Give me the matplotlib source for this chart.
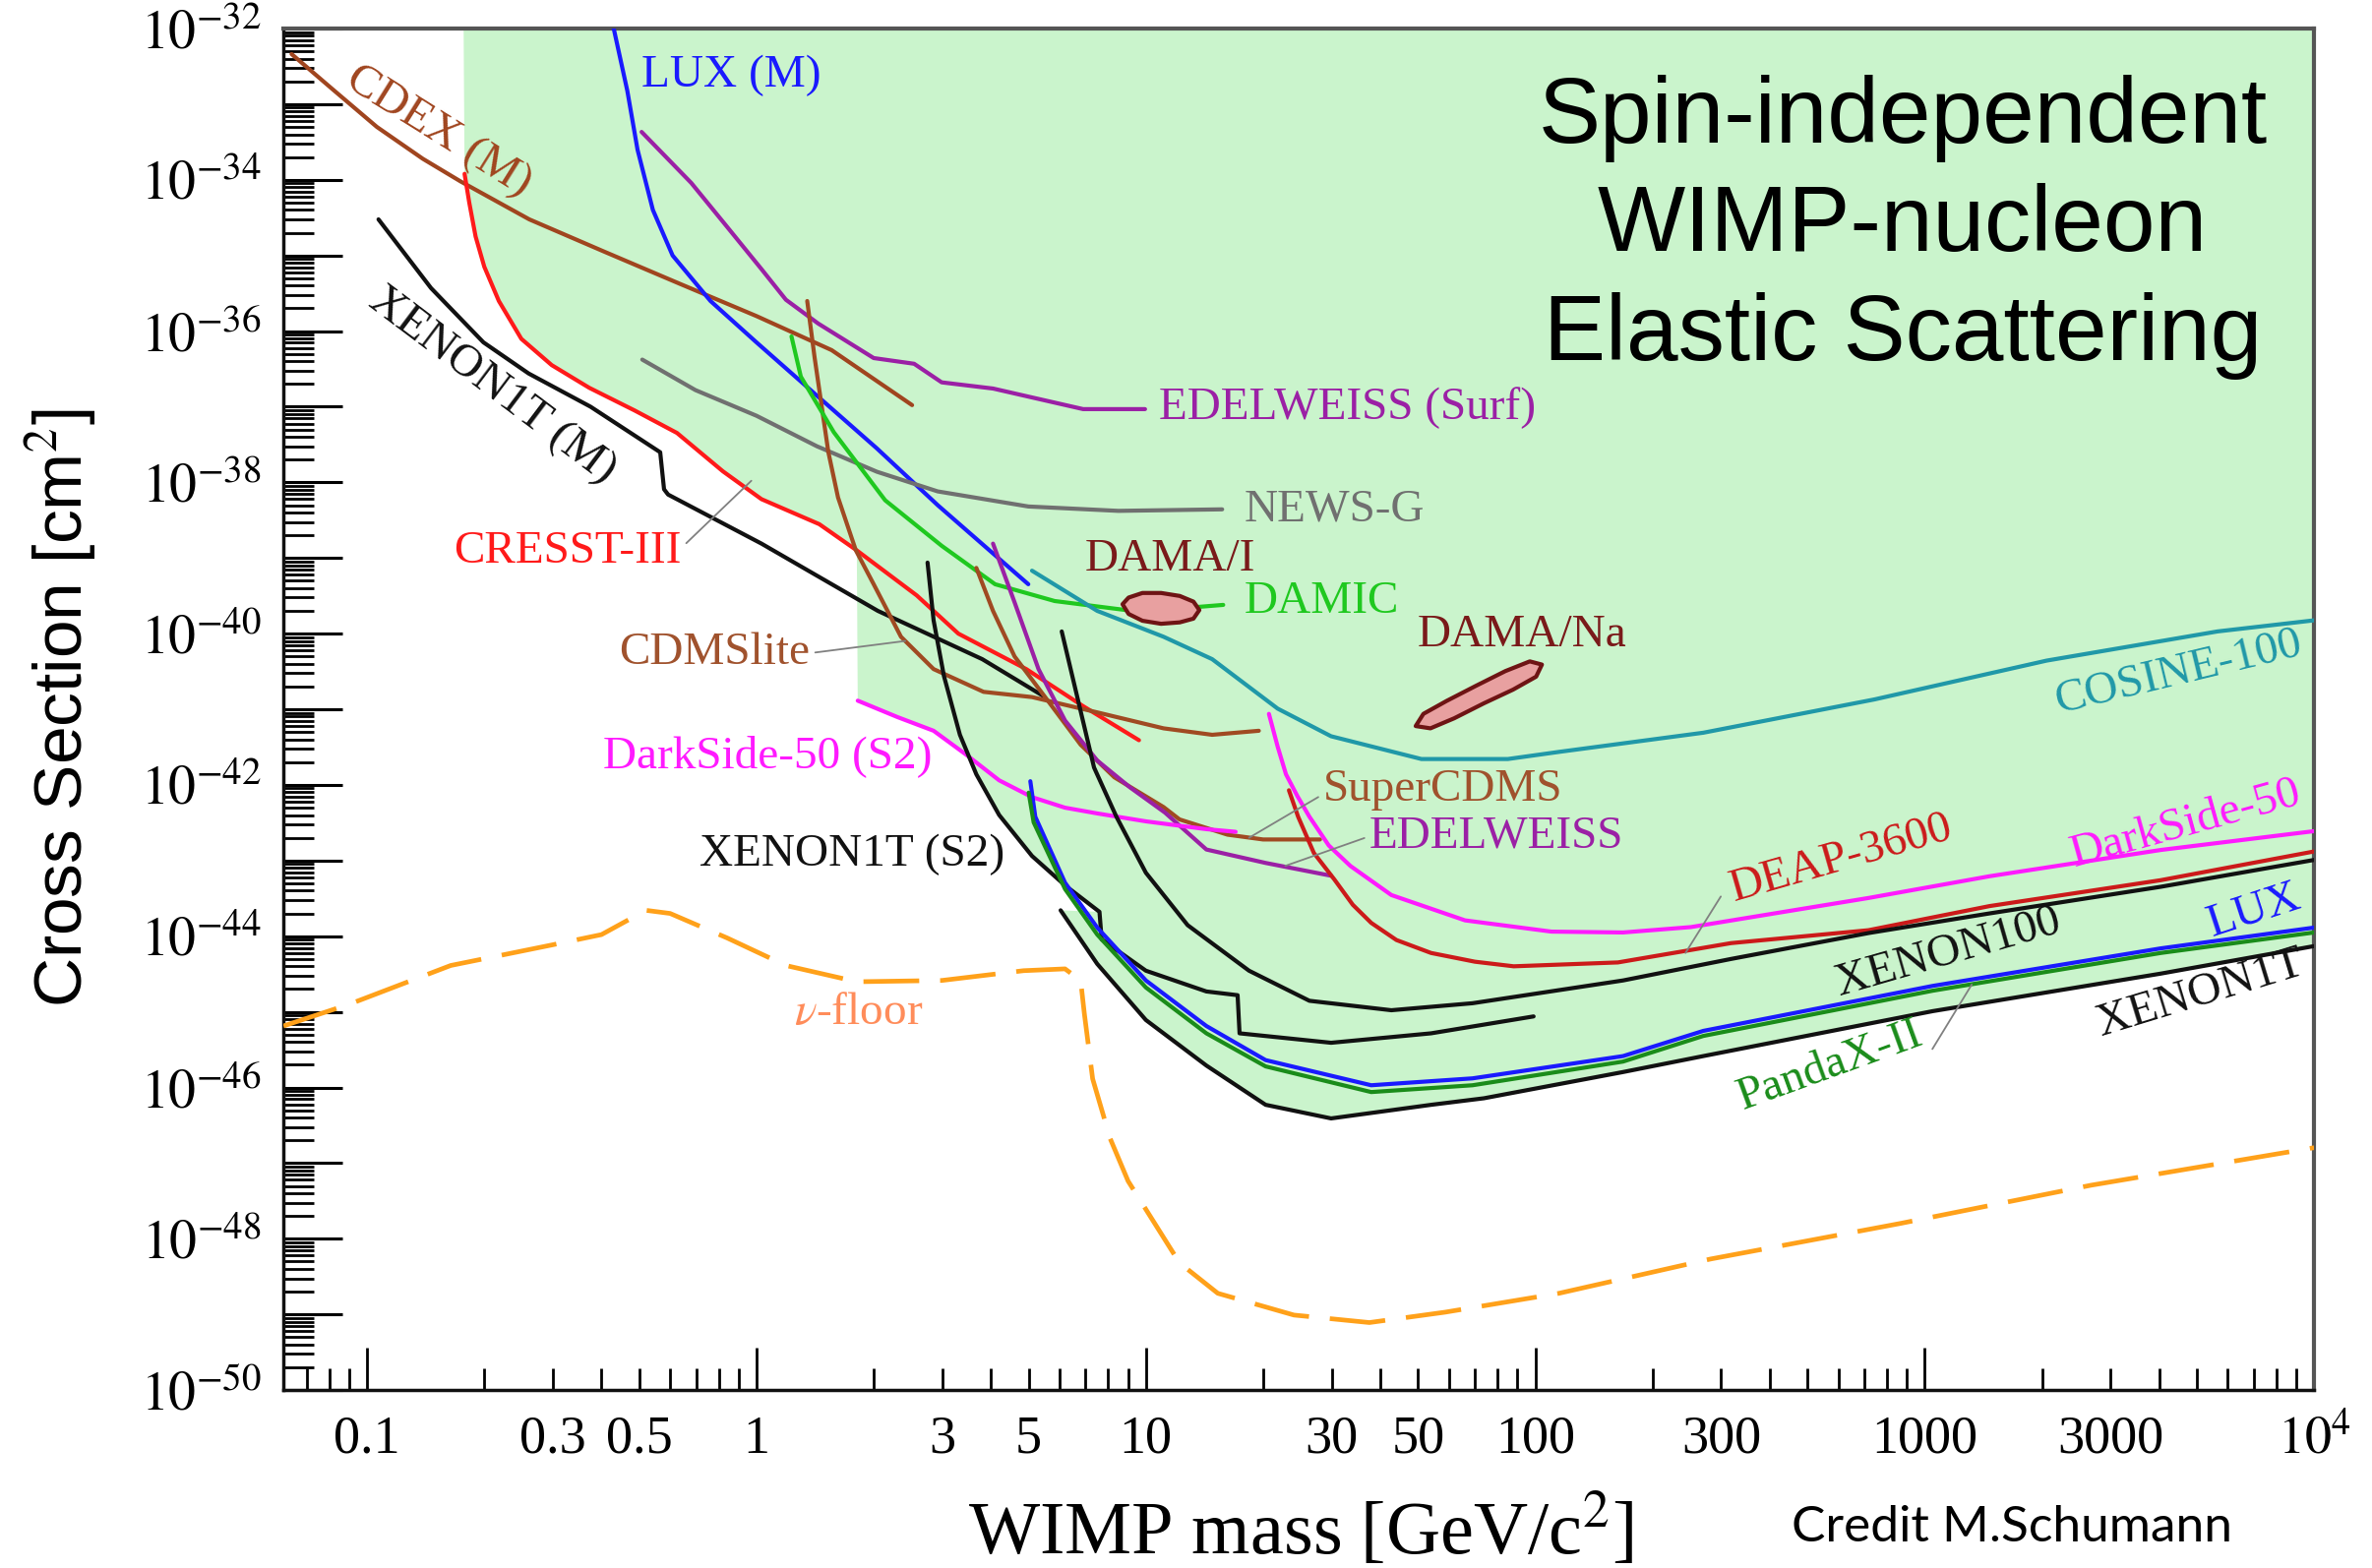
import numpy as np
import matplotlib.pyplot as plt
from matplotlib.ticker import LogLocator, FuncFormatter, NullFormatter

plt.rcParams['font.family'] = ['Liberation Serif', 'DejaVu Serif']
plt.rcParams['mathtext.fontset'] = 'stix'

# ---- curves (mass in GeV/c^2, cross section in cm^2) ----
cdex_m = [0.064, 0.0815, 0.106, 0.139, 0.174, 0.261, 0.407, 0.637, 1.0, 1.56, 2.51]
cdex_s = [4.6e-33, 1.58e-33, 5.0e-34, 1.9e-34, 9.5e-35, 3.0e-35, 1.12e-35, 4.2e-36, 1.58e-36, 5.6e-37, 1.05e-37]

cresst_m = [0.178, 0.183, 0.19, 0.2, 0.218, 0.249, 0.298, 0.372, 0.487, 0.625, 0.82, 1.03, 1.45, 1.81,
            2.58, 3.3, 4.93, 6.9, 9.6]
cresst_s = [1.2e-34, 5.0e-35, 1.78e-35, 7.1e-36, 2.5e-36, 7.9e-37, 3.55e-37, 1.78e-37, 8.9e-38, 4.5e-38,
            1.4e-38, 6.0e-39, 2.8e-39, 1.26e-39, 3.2e-40, 1.0e-40, 3.4e-41, 1.1e-41, 3.9e-42]

x1t_migdal_m = [0.107, 0.146, 0.199, 0.26, 0.375, 0.566, 0.579, 0.593, 1.03, 2.05, 3.8, 5.45]
x1t_migdal_s = [3.0e-35, 3.7e-36, 7.1e-37, 2.75e-37, 1.0e-37, 2.5e-38, 8.1e-39, 6.9e-39, 1.55e-39, 2.0e-40, 4.6e-41, 1.5e-41]

lux_migdal_m = [0.43, 0.466, 0.495, 0.542, 0.609, 0.762, 1.0, 1.43, 2.04, 2.92, 4.99]
lux_migdal_s = [1.0e-32, 1.5e-33, 2.5e-34, 4.0e-35, 1.0e-35, 2.5e-36, 7.1e-37, 1.4e-37, 2.8e-38, 5.0e-39, 4.5e-40]

edw_surf_m = [0.507, 0.68, 0.84, 1.03, 1.19, 1.44, 2.0, 2.54, 2.99, 4.05, 6.9, 9.95]
edw_surf_s = [4.3e-34, 9.1e-35, 2.4e-35, 6.6e-36, 2.6e-36, 1.26e-36, 4.4e-37, 3.7e-37, 2.1e-37, 1.74e-37, 9.3e-38, 9.3e-38]

newsg_m = [0.509, 0.697, 1.0, 1.43, 2.04, 2.92, 4.99, 8.5, 15.7]
newsg_s = [4.2e-37, 1.66e-37, 7.6e-38, 3.0e-38, 1.38e-38, 7.6e-39, 4.8e-39, 4.2e-39, 4.4e-39]

damic_m = [1.23, 1.30, 1.58, 2.14, 2.99, 4.1, 5.83, 9.6, 15.8]
damic_s = [8.5e-37, 2.5e-37, 4.6e-38, 5.8e-39, 1.45e-39, 4.5e-40, 2.7e-40, 1.95e-40, 2.4e-40]

cdmslite_m = [1.35, 1.41, 1.53, 1.62, 1.8, 2.0, 2.35, 2.85, 3.83, 5.1, 7.5, 11.1, 14.8, 19.5]
cdmslite_s = [2.5e-36, 4.5e-37, 2.5e-38, 6.3e-39, 1.26e-39, 4.5e-40, 9.1e-41, 3.4e-41, 1.7e-41, 1.45e-41,
              9.1e-42, 5.6e-42, 4.6e-42, 5.2e-42]

supercdms_m = [3.67, 4.05, 4.6, 5.6, 6.8, 8.3, 11.1, 12.2, 16.2, 20.0, 28.0]
supercdms_s = [7.4e-40, 2.0e-40, 5.0e-41, 1.3e-41, 3.4e-42, 1.26e-42, 5.1e-43, 3.5e-43, 2.2e-43, 1.9e-43, 1.9e-43]

edw_m = [4.05, 4.6, 5.3, 6.2, 7.5, 9.1, 11.2, 14.3, 20.3, 29.9]
edw_s = [1.55e-39, 2.6e-40, 3.4e-41, 7.1e-42, 2.1e-42, 9.3e-43, 4.3e-43, 1.4e-43, 9.3e-44, 6.3e-44]

cosine_m = [5.1, 7.5, 11.1, 14.8, 21.8, 29.9, 51, 85, 116, 270, 743, 2056, 5650, 1e4]
cosine_s = [6.8e-40, 2.0e-40, 9.1e-41, 4.6e-41, 1.02e-41, 4.4e-42, 2.2e-42, 2.2e-42, 2.75e-42, 4.9e-42,
            1.35e-41, 4.4e-41, 1.07e-40, 1.5e-40]

ds_s2_m = [1.82, 2.3, 2.85, 3.46, 4.2, 5.1, 6.2, 7.5, 10, 14.3, 17]
ds_s2_s = [1.3e-41, 7.9e-42, 5.2e-42, 2.5e-42, 1.15e-42, 6.9e-43, 5.0e-43, 4.2e-43, 3.3e-43, 2.6e-43, 2.4e-43]

ds50_m = [20.7, 21.8, 22.9, 24.5, 26.3, 29.5, 33.5, 42.7, 66, 110, 168, 251, 717, 1466, 4036, 1e4]
ds50_s = [8.7e-42, 3.2e-42, 1.38e-42, 7.1e-43, 3.8e-43, 1.58e-43, 8.5e-44, 3.5e-44, 1.62e-44, 1.15e-44,
          1.12e-44, 1.32e-44, 3.2e-44, 6.2e-44, 1.38e-43, 2.45e-43]

deap_m = [23.3, 24.6, 27, 30.5, 34, 37.9, 44, 54, 70, 88, 163, 318, 717, 1466, 4036, 1e4]
deap_s = [8.5e-43, 3.8e-43, 1.26e-43, 5.6e-44, 2.6e-44, 1.5e-44, 8.9e-45, 6.0e-45, 4.6e-45, 4.0e-45,
          4.5e-45, 8.1e-45, 1.2e-44, 2.5e-44, 5.5e-44, 1.32e-43]

x100_m = [6.08, 6.7, 7.36, 8.4, 10, 12.8, 18.4, 26.3, 42.7, 69, 168, 318, 717, 1466, 4036, 1e4]
x100_s = [1.07e-40, 1.3e-41, 1.7e-42, 3.8e-43, 6.9e-44, 1.4e-44, 3.5e-45, 1.4e-45, 1.05e-45, 1.3e-45,
          2.6e-45, 5.0e-45, 1.1e-44, 2.0e-44, 4.5e-44, 1.02e-43]

x1t_s2_m = [2.75, 2.85, 3.03, 3.33, 3.67, 4.2, 5.1, 6.2, 7.6, 7.7, 10, 14.3, 17.2, 17.4, 29.9, 54, 99]
x1t_s2_s = [8.7e-40, 1.5e-40, 2.75e-41, 4.6e-42, 1.38e-42, 4.0e-43, 1.15e-43, 4.7e-44, 2.1e-44, 9.1e-45,
            3.5e-45, 1.86e-45, 1.66e-45, 5.2e-46, 3.9e-46, 5.2e-46, 8.7e-46]

lux_m = [5.05, 5.2, 6.2, 7.5, 10, 14.3, 20.3, 37.9, 69, 168, 270, 1047, 4036, 1e4]
lux_s = [1.12e-42, 3.8e-43, 5.1e-44, 1.3e-44, 2.6e-45, 6.5e-46, 2.3e-46, 1.07e-46, 1.32e-46, 2.6e-46,
         5.6e-46, 2.2e-45, 6.9e-45, 1.3e-44]

pandax_m = [5.0, 5.15, 6.2, 7.5, 10, 14.3, 20.3, 37.9, 69, 168, 270, 1047, 4036, 1e4]
pandax_s = [7.9e-43, 3.2e-43, 4.2e-44, 1.05e-44, 2.1e-45, 5.2e-46, 1.9e-46, 8.7e-47, 1.07e-46, 2.2e-46,
            4.8e-46, 1.9e-45, 6.0e-45, 1.12e-44]

x1t_m = [6.04, 7.5, 10, 14.3, 20.3, 29.9, 54, 73.8, 168, 270, 1047, 4036, 1e4]
x1t_s = [2.2e-44, 4.3e-45, 7.8e-46, 1.95e-46, 5.9e-47, 3.9e-47, 5.9e-47, 7.2e-47, 1.6e-46, 2.6e-46,
         1.02e-45, 3.2e-45, 7.4e-45]

nufloor_m = [0.061, 0.09, 0.164, 0.296, 0.40, 0.52, 0.60, 0.84, 1.19, 1.81, 2.99, 4.85, 6.2, 6.8, 6.95, 7.3,
             8.1, 9.0, 12.2, 15.3, 24, 37.5, 58.7, 115, 282, 869, 2673, 1e4]
nufloor_s = [6.5e-46, 1.26e-45, 4.1e-45, 7.6e-45, 1.05e-44, 2.2e-44, 2.0e-44, 9.5e-45, 4.1e-45, 2.5e-45,
             2.6e-45, 3.5e-45, 3.7e-45, 2.6e-45, 9.5e-46, 1.3e-46, 2.1e-47, 5.8e-48, 4.8e-49, 1.9e-49,
             9.8e-50, 7.8e-50, 1.07e-49, 1.9e-49, 5.4e-49, 1.6e-48, 5.1e-48, 1.6e-47]

# DAMA contours
dama_i_m = [8.71, 9.03, 9.80, 10.94, 12.22, 13.25, 13.72, 13.25, 12.22, 10.94, 9.80, 9.03, 8.71]
dama_i_s = [2.45e-40, 3.0e-40, 3.45e-40, 3.45e-40, 3.15e-40, 2.65e-40, 2.05e-40, 1.58e-40, 1.41e-40,
            1.35e-40, 1.48e-40, 1.82e-40, 2.45e-40]
dama_na_m = [49.3, 51.6, 59.2, 70.5, 83.8, 96.8, 104, 100.5, 87.7, 73.8, 61.9, 53.8, 49.3]
dama_na_s = [6.0e-42, 8.7e-42, 1.29e-41, 2.05e-41, 3.2e-41, 4.3e-41, 3.9e-41, 2.7e-41, 1.82e-41, 1.2e-41,
             7.6e-42, 5.6e-42, 6.0e-42]

# tick labels on the mass axis
xtick_vals = [0.1, 0.3, 0.5, 1, 3, 5, 10, 30, 50, 100, 300, 1000, 3000, 1e4]
xtick_text = ['0.1', '0.3', '0.5', '1', '3', '5', '10', '30', '50', '100', '300', '1000', '3000', r'$10^4$']

# ---- colours ----
BLUE = '#1a1aff'
CDEX_C = '#a0451f'
BROWN = '#a04a22'
RED = '#ff1a1a'
BLACK = '#111111'
PURPLE = '#9b20a5'
GRAY = '#707070'
GREEN = '#1fc81f'
TEAL = '#2098a8'
MAGENTA = '#ff1aff'
DEAP_C = '#cc1a1a'
PANDA_C = '#1a8c1a'
ORANGE = '#ffa11a'
FILL = '#caf4cc'

fig = plt.figure(figsize=(24.11, 15.94), dpi=100)
ax = fig.add_axes([0.1195, 0.1135, 0.8561, 0.8683])
ax.set_xscale('log')
ax.set_yscale('log')
ax.set_xlim(0.061, 1e4)
ax.set_ylim(1e-50, 1e-32)

# excluded region (built from the limit curves)
top = 1e-32
poly_m = np.concatenate([[0.177, 1e4], x1t_m[::-1], x1t_s2_m[8:3:-1], ds_s2_m[3::-1], cresst_m[13::-1]])
poly_s = np.concatenate([[top, top], x1t_s[::-1], x1t_s2_s[8:3:-1], ds_s2_s[3::-1], cresst_s[13::-1]])
ax.fill(poly_m, poly_s, color=FILL, lw=0, zorder=0)

lw = 3.0
curves = [
    (cdex_m, cdex_s, CDEX_C), (cresst_m, cresst_s, RED), (x1t_migdal_m, x1t_migdal_s, BLACK),
    (lux_migdal_m, lux_migdal_s, BLUE), (edw_surf_m, edw_surf_s, PURPLE), (newsg_m, newsg_s, GRAY),
    (cdmslite_m, cdmslite_s, BROWN), (damic_m, damic_s, GREEN), (supercdms_m, supercdms_s, BROWN),
    (edw_m, edw_s, PURPLE), (cosine_m, cosine_s, TEAL), (ds_s2_m, ds_s2_s, MAGENTA),
    (ds50_m, ds50_s, MAGENTA), (deap_m, deap_s, DEAP_C), (x100_m, x100_s, BLACK),
    (x1t_s2_m, x1t_s2_s, BLACK), (lux_m, lux_s, BLUE), (pandax_m, pandax_s, PANDA_C), (x1t_m, x1t_s, BLACK),
]
for m, s, c in curves:
    ax.plot(m, s, color=c, lw=lw, zorder=3, solid_joinstyle='round', solid_capstyle='round')

ax.plot(nufloor_m, nufloor_s, color=ORANGE, lw=3.4, dashes=(12, 4.5), zorder=3)

for m, s in [(dama_i_m, dama_i_s), (dama_na_m, dama_na_s)]:
    ax.fill(m, s, facecolor='#e8a0a0', edgecolor='#6e1414', lw=3.0, joinstyle='round', zorder=4)

# ---- labels ----
fs = 34
def lab(txt, x, y, color, rot=0, ha='center'):
    ax.text(x, y, txt, transform=ax.transAxes, color=color, fontsize=fs, rotation=rot,
            ha=ha, va='center', zorder=6, rotation_mode='anchor')

lab('LUX (M)', 0.2204, 0.9653, BLUE)
lab('CDEX (M)', 0.0766, 0.9241, CDEX_C, rot=-32)
lab('XENON1T (M)', 0.1027, 0.7377, BLACK, rot=-37)
lab('EDELWEISS (Surf)', 0.4312, 0.7211, PURPLE, ha='left')
lab('NEWS-G', 0.4729, 0.6467, GRAY, ha='left')
lab('DAMA/I', 0.4365, 0.6098, '#7a1a1a')
lab('DAMIC', 0.4729, 0.5788, GREEN, ha='left')
lab('DAMA/Na', 0.5586, 0.5542, '#7a1a1a', ha='left')
lab('COSINE-100', 0.9331, 0.5267, TEAL, rot=13.5)
lab('DarkSide-50 (S2)', 0.2384, 0.4653, MAGENTA)
lab('XENON1T (S2)', 0.2800, 0.3931, BLACK)
lab('DarkSide-50', 0.9370, 0.4155, MAGENTA, rot=15.5)
lab('LUX', 0.9705, 0.3519, BLUE, rot=18)
lab('XENON100', 0.8198, 0.3208, BLACK, rot=16)
lab('XENON1T', 0.9443, 0.2912, BLACK, rot=17)
lab(r'$\nu$-floor', 0.2834, 0.2767, '#ff8c5a')

lead = dict(arrowstyle='-', color='#808080', lw=1.3, shrinkA=2, shrinkB=0)
ax.annotate('CRESST-III', xy=(0.97, 1.05e-38), xytext=(0.1400, 0.6156), textcoords='axes fraction',
            ha='center', va='center', color=RED, fontsize=fs, zorder=6,
            arrowprops=dict(lead, relpos=(1.0, 0.6)))
ax.annotate('CDMSlite', xy=(2.41, 8e-41), xytext=(0.2592, 0.5412), textcoords='axes fraction',
            ha='right', va='center', color='#a0522d', fontsize=fs, zorder=6,
            arrowprops=dict(lead, relpos=(1.0, 0.5)))
ax.annotate('SuperCDMS', xy=(18.4, 2.0e-43), xytext=(0.5121, 0.4408), textcoords='axes fraction',
            ha='left', va='center', color='#a0522d', fontsize=fs, zorder=6,
            arrowprops=dict(lead, relpos=(0.0, 0.4)))
ax.annotate('EDELWEISS', xy=(22.8, 8.5e-44), xytext=(0.5349, 0.4068), textcoords='axes fraction',
            ha='left', va='center', color=PURPLE, fontsize=fs, zorder=6,
            arrowprops=dict(lead, relpos=(0.0, 0.5)))
ax.annotate('DEAP-3600', xy=(243, 6e-45), xytext=(0.7670, 0.3902), textcoords='axes fraction',
            ha='center', va='center', color=DEAP_C, fontsize=fs, rotation=16, rotation_mode='anchor', zorder=6,
            arrowprops=dict(lead, relpos=(0.0, 0.2)))
ax.annotate('PandaX-II', xy=(1321, 2.3e-45), xytext=(0.7616, 0.2377), textcoords='axes fraction',
            ha='center', va='center', color=PANDA_C, fontsize=fs, rotation=20, rotation_mode='anchor', zorder=6,
            arrowprops=dict(lead, relpos=(1.0, 0.6)))

# ---- axes styling ----
def ylab(v, pos):
    e = int(round(np.log10(v)))
    return r'$10^{%d}$' % e if e % 2 == 0 else ''

def xlab(v, pos):
    for k, t in zip(xtick_vals, xtick_text):
        if abs(np.log10(v) - np.log10(k)) < 1e-6:
            return t
    return ''

ax.yaxis.set_major_locator(LogLocator(base=10, numticks=40))
ax.yaxis.set_minor_locator(LogLocator(base=10, subs=np.arange(2, 10), numticks=200))
ax.yaxis.set_major_formatter(FuncFormatter(ylab))
ax.yaxis.set_minor_formatter(NullFormatter())
ax.xaxis.set_major_locator(LogLocator(base=10, numticks=20))
ax.xaxis.set_minor_locator(LogLocator(base=10, subs=np.arange(2, 10), numticks=100))
ax.xaxis.set_major_formatter(FuncFormatter(xlab))
ax.xaxis.set_minor_formatter(FuncFormatter(xlab))

ax.tick_params(axis='y', which='major', direction='in', length=43, width=2.2, labelsize=40, pad=16)
ax.tick_params(axis='y', which='minor', direction='in', length=22, width=2.0)
ax.tick_params(axis='x', which='major', direction='in', length=31, width=2.0, labelsize=39, pad=18)
ax.tick_params(axis='x', which='minor', direction='in', length=16, width=2.0, labelsize=39, pad=18)

for side in ['left', 'bottom']:
    ax.spines[side].set_linewidth(2.5)
    ax.spines[side].set_color('#111111')
for side in ['top', 'right']:
    ax.spines[side].set_linewidth(3)
    ax.spines[side].set_color('#555555')

fig.text(62 / 2411, 1 - 720 / 1594, r'Cross Section [cm$^2$]', rotation=90, ha='center', va='center',
         fontsize=50, family=['Liberation Sans', 'DejaVu Sans'])
fig.text(1322 / 2411, 1 - 1556 / 1594, r'WIMP mass [GeV/c$^2$]', ha='center', va='center', fontsize=55)
fig.text(2045 / 2411, 1 - 1553 / 1594, 'Credit M.Schumann', ha='center', va='center', fontsize=37,
         family=['Lato', 'DejaVu Sans'])
fig.text(1934 / 2411, 1 - 231 / 1594, 'Spin-independent\nWIMP-nucleon\nElastic Scattering',
         ha='center', va='center', fontsize=68, linespacing=1.31, family=['Liberation Sans', 'DejaVu Sans'])

fig.savefig('out.png', dpi=100)
